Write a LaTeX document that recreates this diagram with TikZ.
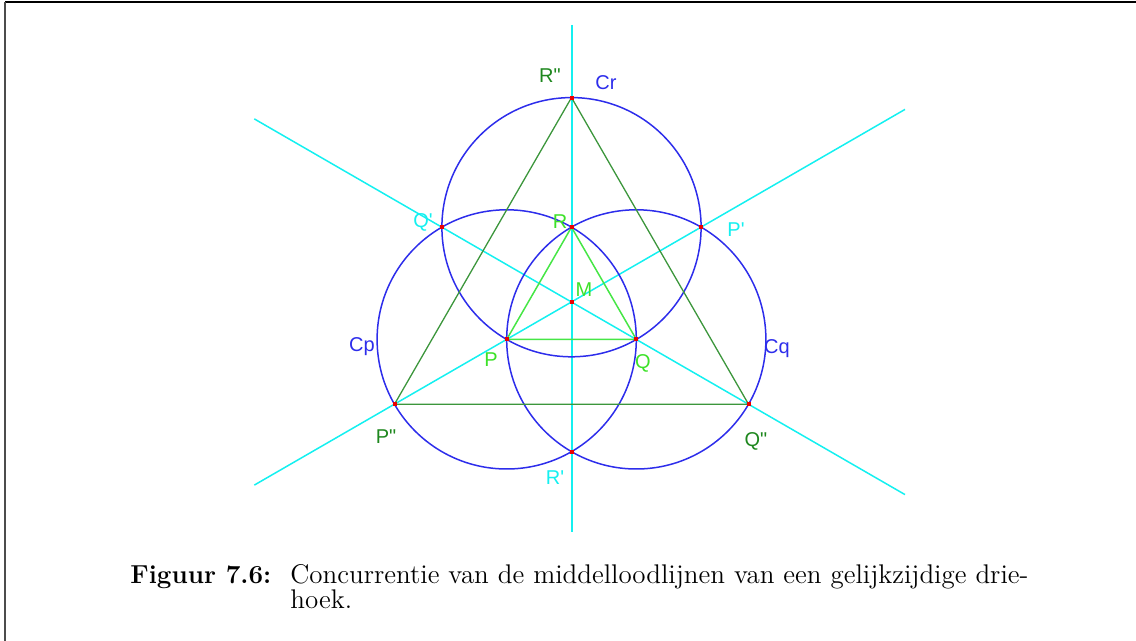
\documentclass[tikz,border=0pt]{standalone}
\usepackage{fontspec}
\newfontfamily\lab{Liberation Sans}
\definecolor{cblue}{RGB}{45,45,235}
\definecolor{ccyan}{RGB}{20,240,240}
\definecolor{dgreen}{RGB}{60,150,60}
\definecolor{lgreen}{RGB}{70,230,70}
\definecolor{ldgreen}{RGB}{30,135,30}
\definecolor{llgreen}{RGB}{60,225,40}
\definecolor{cred}{RGB}{235,0,0}
\tikzset{
  perp/.style={draw=ccyan, line width=0.75pt},
  circ/.style={draw=cblue, line width=0.75pt},
  bigtri/.style={draw=dgreen, line width=0.65pt},
  smalltri/.style={draw=lgreen, line width=0.75pt},
  lbl/.style={inner sep=0pt, font=\lab\fontsize{10}{12}\selectfont},
  capt/.style={inner sep=0pt, anchor=base west, font=\fontsize{13.5}{12}\selectfont},
}
\newcommand{\dq}{\textquotedbl}
\newcommand{\sq}{\textquotesingle}
\begin{document}
\begin{tikzpicture}[x=0.5pt,y=-0.5pt]
\useasboundingbox (0,0) rectangle (1136,641);
% frame
\draw[black, line width=0.6pt] (5,2) -- (1136,2);
\draw[gray!60!black, line width=0.9pt] (5,2) -- (5,641);
% points
\coordinate (M) at (571.5,302);
\coordinate (R) at (571.5,227.2);
\coordinate (P) at (506.7,339.4);
\coordinate (Q) at (636.3,339.4);
\coordinate (R2) at (571.5,97.6);
\coordinate (P2) at (394.5,404.2);
\coordinate (Q2) at (748.5,404.2);
\coordinate (R1) at (571.5,451.7);
\coordinate (Q1) at (441.9,227.15);
\coordinate (P1) at (701.1,227.15);
% line ends
\coordinate (VT) at (571.5,25);
\coordinate (VB) at (571.5,532.5);
\coordinate (LUL) at (254.3,118.9);
\coordinate (LDR) at (905,494.6);
\coordinate (LDL) at (254.3,485.1);
\coordinate (LUR) at (905,109.4);
% perpendicular bisectors
\draw[perp, line width=1pt] (VT) -- (VB);
\draw[perp] (LUL) -- (LDR);
\draw[perp] (LDL) -- (LUR);
% circles
\draw[circ] (R) circle[radius=129.6];
\draw[circ] (P) circle[radius=129.6];
\draw[circ] (Q) circle[radius=129.6];
% triangles
\draw[bigtri] (P2) -- (Q2) -- (R2) -- cycle;
\draw[smalltri] (P) -- (Q) -- (R) -- cycle;
% red points
\foreach \p in {M,R,P,Q,R2,P2,Q2,R1,Q1,P1}
  \fill[cred] (\p) +(-2,-2) rectangle +(2,2);
% labels
\node[lbl, text=ldgreen] (lR2) at (550,76) {R\dq};
\node[lbl, text=cblue] (lCr) at (606,83) {Cr};
\node[lbl, text=ccyan] (lQ1) at (423,222) {Q\sq};
\node[lbl, text=llgreen] (lR) at (560,222) {R};
\node[lbl, text=ccyan] (lP1) at (736,230) {P\sq};
\node[lbl, text=llgreen] (lM) at (584,290) {M};
\node[lbl, text=cblue] (lCp) at (362,347) {Cp};
\node[lbl, text=llgreen] (lP) at (491,360) {P};
\node[lbl, text=llgreen] (lQ) at (643,363) {Q};
\node[lbl, text=cblue] (lCq) at (777,349) {Cq};
\node[lbl, text=ldgreen] (lP2) at (386,437) {P\dq};
\node[lbl, text=ccyan] (lR1) at (555,478) {R\sq};
\node[lbl, text=ldgreen] (lQ2) at (756,441) {Q\dq};
% caption
\node[capt, font=\fontsize{13}{12}\selectfont] (fig) at (130,584) {\bfseries Figuur 7.6:};
\node[capt] (cap1) at (290,584) {\makebox[369pt][s]{Concurrentie van de middelloodlijnen van een gelijkzijdige drie-}};
\node[capt] (cap2) at (290,609) {hoek.};
\end{tikzpicture}
\end{document}
